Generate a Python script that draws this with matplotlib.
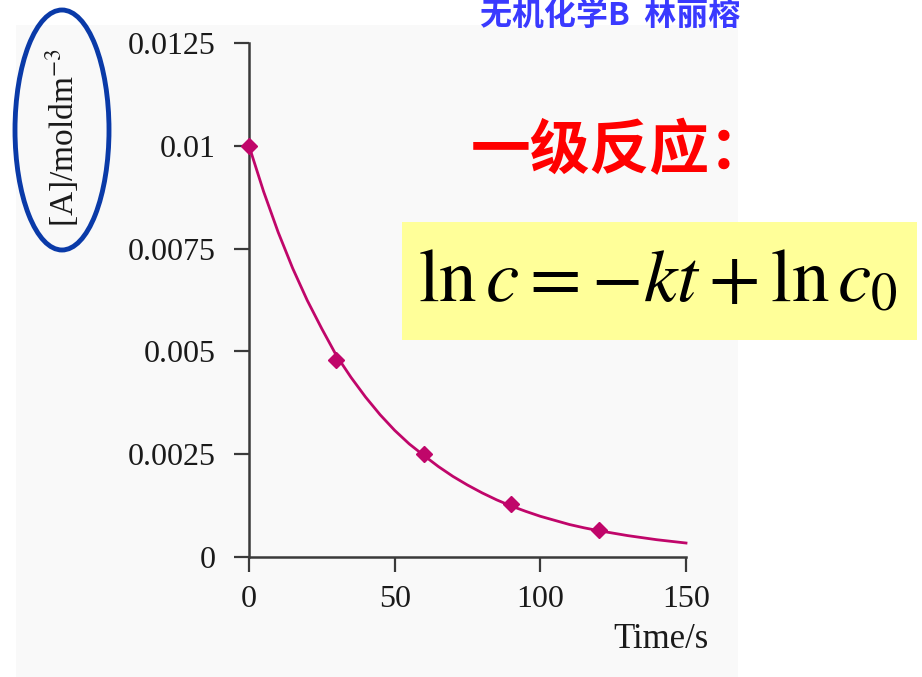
import matplotlib
matplotlib.use("Agg")
import matplotlib.pyplot as plt
from matplotlib.patches import Rectangle, Ellipse

plt.rcParams["mathtext.fontset"] = "stix"

# Measured concentrations of A (first-order decay)
t_points = [0, 30, 60, 90, 120]
c_points = [0.0100, 0.0048, 0.0025, 0.0013, 0.00065]

# Smooth decay curve, sampled every 5 s
t_curve = [0, 5, 10, 15, 20, 25, 30, 35, 40, 45, 50, 55, 60, 65, 70, 75,
           80, 85, 90, 95, 100, 105, 110, 115, 120, 125, 130, 135, 140, 145, 150]
c_curve = [0.01000, 0.00889, 0.00790, 0.00702, 0.00624, 0.00555, 0.00490,
           0.00437, 0.00389, 0.00346, 0.00308, 0.00275, 0.00247, 0.00220,
           0.00196, 0.00175, 0.00156, 0.00139, 0.00124, 0.00111, 0.00099,
           0.00089, 0.00079, 0.00071, 0.00064, 0.00058, 0.00052, 0.00047,
           0.00042, 0.00038, 0.00034]

x_ticks = [0, 50, 100, 150]
x_tick_labels = ["0", "50", "100", "150"]
y_ticks = [0, 0.0025, 0.005, 0.0075, 0.01, 0.0125]
y_tick_labels = ["0", "0.0025", "0.005", "0.0075", "0.01", "0.0125"]

W, H = 922, 677
fig = plt.figure(figsize=(W / 100, H / 100), dpi=100)
fig.patch.set_facecolor("white")

# light slide panel behind the chart
fig.add_artist(Rectangle((16 / W, 0), (738 - 16) / W, (H - 25) / H,
                         transform=fig.transFigure, facecolor="#f9f9f9",
                         edgecolor="none", zorder=0))

ax = fig.add_axes([249 / W, (H - 557) / H, 437 / W, 514 / H])
ax.set_facecolor("none")
line_color = "#c0066a"
ax.plot(t_curve, c_curve, color=line_color, lw=2.0, zorder=3, clip_on=False)
ax.plot(t_points, c_points, linestyle="none", marker="D", markersize=8,
        color=line_color, zorder=4, clip_on=False)

ax.set_xlim(0, 150)
ax.set_ylim(0, 0.0125)
for side in ("top", "right"):
    ax.spines[side].set_visible(False)
for side in ("left", "bottom"):
    ax.spines[side].set_color("#3a3a3a")
    ax.spines[side].set_linewidth(1.8)

serif = "Liberation Serif"
ax.set_xticks(x_ticks)
ax.set_xticklabels(x_tick_labels, fontfamily=serif, fontsize=23)
ax.set_yticks(y_ticks)
ax.set_yticklabels(y_tick_labels, fontfamily=serif, fontsize=23)
ax.tick_params(axis="both", direction="out", length=11, width=1.6,
               color="#3a3a3a", labelcolor="#1a1a1a")
ax.tick_params(axis="y", pad=13)
ax.tick_params(axis="x", pad=9)

# axis titles
fig.text(709 / W, 1 - 640 / H, "Time/s", fontfamily=serif, fontsize=25,
         ha="right", va="center", color="#1a1a1a")
fig.text(62 / W, 1 - 138 / H, r"[A]/moldm$^{-3}$", fontfamily=serif,
         fontsize=24, rotation=90, ha="center", va="center", color="#1a1a1a")

# blue ring around the concentration label
fig.add_artist(Ellipse((62 / W, 1 - 130 / H), 94 / W, 240 / H,
                       transform=fig.transFigure, fill=False,
                       edgecolor="#0a3aa8", linewidth=3.5, zorder=5))

# course header along the top edge
fig.text(610 / W, 1 - 16 / H, "无机化学B  林丽榕",
         fontfamily=["Noto Sans CJK SC", "DejaVu Sans"], fontweight="bold",
         fontsize=23, color="#3a3aff", ha="center", va="center", zorder=6)

# first-order heading
fig.text(620 / W, 1 - 152 / H, "一级反应：",
         fontfamily=["Noto Sans CJK SC", "DejaVu Sans"], fontweight="black",
         fontsize=43, color="#ff0000", ha="center", va="center")

# integrated rate law on a yellow strip
fig.add_artist(Rectangle((402 / W, 1 - 340 / H), (917 - 402) / W, 118 / H,
                         transform=fig.transFigure, facecolor="#ffff99",
                         edgecolor="none", zorder=1))
fig.text(658 / W, 1 - 302 / H, r"$\mathrm{ln}\,c = -kt + \mathrm{ln}\,c_0$",
         fontsize=54, color="black", ha="center", va="baseline", zorder=2)

fig.savefig("out.png", dpi=100, facecolor=fig.get_facecolor())
